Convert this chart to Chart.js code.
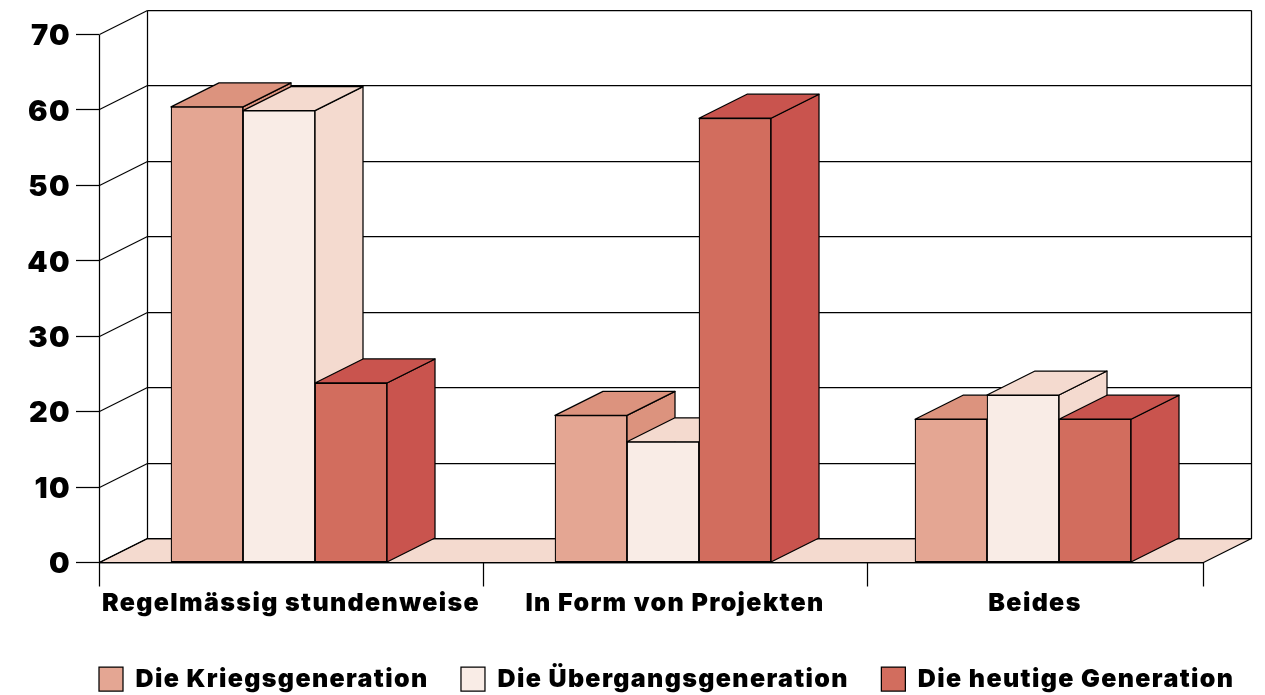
<!DOCTYPE html>
<html>
<head>
<meta charset="utf-8">
<style>
html, body { margin: 0; padding: 0; background: #fff; }
#wrap { width: 1265px; height: 695px; }
</style>
<script src="https://cdn.jsdelivr.net/npm/chart.js@4"></script>
</head>
<body>
<div id="wrap"><canvas id="c" width="1265" height="695"></canvas></div>
<script>
const categories = ['Regelmässig stundenweise', 'In Form von Projekten', 'Beides'];
const seriesNames = ['Die Kriegsgeneration', 'Die Übergangsgeneration', 'Die heutige Generation'];
const kriegsgeneration = [60.4, 19.5, 19.0];
const uebergangsgeneration = [59.9, 16.0, 22.2];
const heutigeGeneration = [23.8, 58.9, 19.0];
const yTicks = [0, 10, 20, 30, 40, 50, 60, 70];

// Pixel offsets along the category axis; the third category is narrower.
const AXIS_STOPS = [0, 384, 768, 1104];
const BAR_GROUP_CENTRES = [180, 564, 924];
const LABEL_CENTRES = [192, 576, 936];
const DEPTH_X = 48;
const DEPTH_Y = -24;
const INK = '#000';
const FLOOR = '#F4DACF';
const TICK_DROP = 24;
const FONT = 'Inter';
const TRACKING = '1.35px';
const AXIS_BAND = 132.5;
const LEGEND_LEFT = 66.5;
const LEGEND_TOP = 634;
const LEGEND_RIGHT = 1400;
const STROKE = 1.25;

const palette = [
  { front: '#E4A693', shade: '#DC937E' },
  { front: '#F9ECE6', shade: '#F4DACF' },
  { front: '#D26D5E', shade: '#C9544E' }
];

// Category scale whose groups sit at explicit offsets instead of even bands.
class GroupedCategoryScale extends Chart.CategoryScale {
  getPixelForValue(value) {
    return this.left + BAR_GROUP_CENTRES[Math.round(value)];
  }
  getPixelForTick(index) {
    return this.left + LABEL_CENTRES[index];
  }
}
GroupedCategoryScale.id = 'groupedCategory';
GroupedCategoryScale.defaults = Chart.CategoryScale.defaults;
Chart.register(GroupedCategoryScale);

const crisp = v => Math.round(v - 0.5) + 0.5;

function polygon(ctx, pts, fill) {
  ctx.beginPath();
  pts.forEach((p, i) => (i ? ctx.lineTo(p[0], p[1]) : ctx.moveTo(p[0], p[1])));
  ctx.closePath();
  if (fill) { ctx.fillStyle = fill; ctx.fill(); }
  ctx.stroke();
}

function line(ctx, x1, y1, x2, y2) {
  ctx.beginPath();
  ctx.moveTo(x1, y1);
  ctx.lineTo(x2, y2);
  ctx.stroke();
}

// Draws the back wall, side wall and floor, then every bar with its depth faces,
// left to right so nearer faces cover the ones behind them.
const projection = {
  id: 'projection',
  beforeUpdate(chart) {
    // Wider tracking for the heavy labels; text measurement picks this up too.
    chart.ctx.letterSpacing = TRACKING;
  },
  afterLayout(chart) {
    chart.legend.left = LEGEND_LEFT;
    chart.legend.top = LEGEND_TOP;
    chart.legend.right = LEGEND_RIGHT;
  },
  beforeDatasetsDraw(chart) {
    const { ctx } = chart;
    const xs = chart.scales.x;
    const ys = chart.scales.y;
    const left = xs.left + 0.5;
    const right = xs.left + AXIS_STOPS[AXIS_STOPS.length - 1] + 0.5;
    const base = crisp(ys.getPixelForValue(0));

    ctx.save();
    ctx.strokeStyle = INK;
    ctx.lineWidth = STROKE;
    ctx.lineJoin = 'round';

    polygon(ctx, [
      [left, base], [left + DEPTH_X, base + DEPTH_Y],
      [right + DEPTH_X, base + DEPTH_Y], [right, base]
    ], FLOOR);

    yTicks.forEach(v => {
      const y = crisp(ys.getPixelForValue(v));
      line(ctx, left, y, left + DEPTH_X, y + DEPTH_Y);
      line(ctx, left + DEPTH_X, y + DEPTH_Y, right + DEPTH_X, y + DEPTH_Y);
    });
    const top = crisp(ys.getPixelForValue(yTicks[yTicks.length - 1]));
    line(ctx, left + DEPTH_X, top + DEPTH_Y, left + DEPTH_X, base + DEPTH_Y);
    line(ctx, right + DEPTH_X, top + DEPTH_Y, right + DEPTH_X, base + DEPTH_Y);
    line(ctx, left, top, left, base);

    AXIS_STOPS.forEach(stop => {
      const x = xs.left + stop + 0.5;
      line(ctx, x, base, x, base + TICK_DROP);
    });
    line(ctx, left, base, right, base);

    chart.data.datasets.forEach((ds, i) => {
      const meta = chart.getDatasetMeta(i);
      meta.data.forEach(bar => {
        const l = bar.x - bar.width / 2;
        const r = bar.x + bar.width / 2;
        const t = bar.y;
        const b = bar.base;
        const shade = palette[i].shade;
        polygon(ctx, [
          [r, t], [r + DEPTH_X, t + DEPTH_Y], [r + DEPTH_X, b + DEPTH_Y], [r, b]
        ], shade);
        polygon(ctx, [
          [l, t], [l + DEPTH_X, t + DEPTH_Y], [r + DEPTH_X, t + DEPTH_Y], [r, t]
        ], shade);
        bar.draw(ctx, chart.chartArea);
      });
    });
    ctx.restore();
    return false;
  }
};

new Chart(document.getElementById('c'), {
  type: 'bar',
  plugins: [projection],
  data: {
    labels: categories,
    datasets: [kriegsgeneration, uebergangsgeneration, heutigeGeneration].map((values, i) => ({
      label: seriesNames[i],
      data: values,
      backgroundColor: palette[i].front,
      borderColor: INK,
      borderWidth: STROKE,
      borderSkipped: false,
      barThickness: 72
    }))
  },
  options: {
    responsive: false,
    animation: false,
    events: [],
    layout: { padding: { left: 0, right: 0, top: 34.5, bottom: 0 } },
    scales: {
      x: {
        type: 'groupedCategory',
        grid: { display: false },
        border: { display: false },
        ticks: {
          autoSkip: false,
          maxRotation: 0,
          padding: 18,
          color: INK,
          font: { family: FONT, weight: '900', size: 25 }
        },
        afterFit(scale) { scale.height = AXIS_BAND - scale.chart.legend.height; }
      },
      y: {
        min: 0,
        max: 70,
        afterBuildTicks(scale) { scale.ticks = yTicks.map(value => ({ value })); },
        grid: { drawOnChartArea: false, tickLength: 23, tickColor: INK, tickWidth: STROKE },
        border: { display: false },
        ticks: {
          padding: 5,
          labelOffset: 2,
          color: INK,
          font: { family: FONT, weight: '900', size: 29 }
        },
        afterFit(scale) { scale.width = 99; }
      },
      depthGutter: {
        type: 'linear',
        position: 'right',
        display: true,
        grid: { display: false },
        border: { display: false },
        ticks: { display: false },
        afterFit(scale) { scale.width = 62; }
      }
    },
    plugins: {
      tooltip: { enabled: false },
      legend: {
        position: 'bottom',
        align: 'start',
        labels: {
          boxWidth: 24,
          boxHeight: 24,
          padding: 32.5,
          color: INK,
          font: { family: FONT, weight: '900', size: 25 }
        }
      }
    }
  }
});
</script>
</body>
</html>
